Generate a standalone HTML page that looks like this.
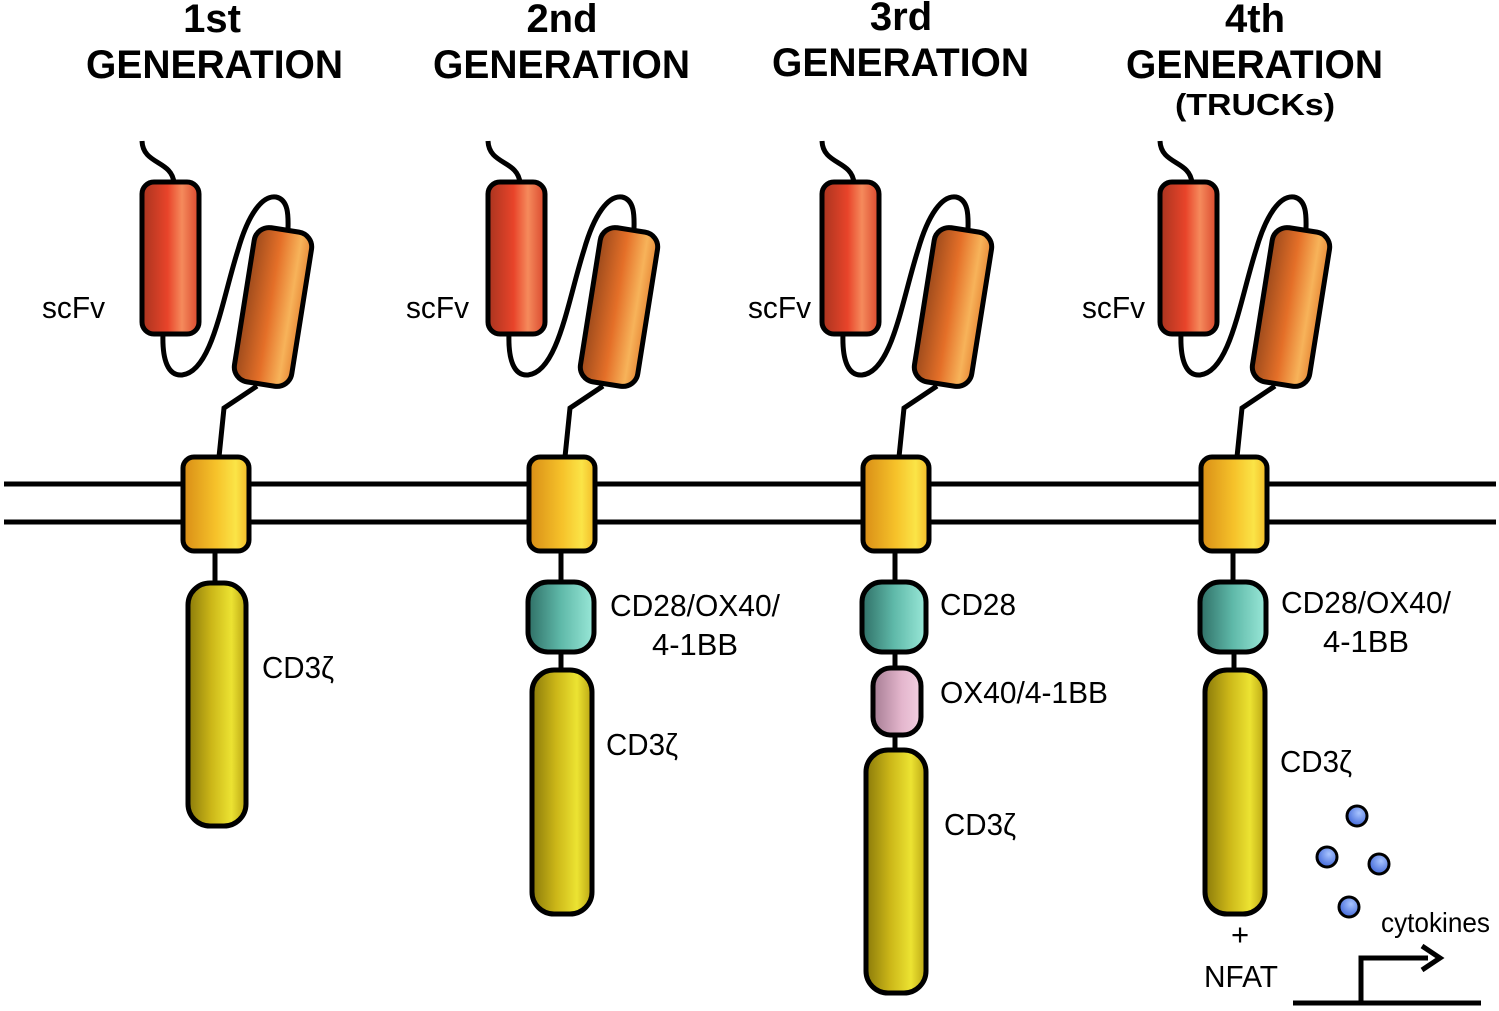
<!DOCTYPE html>
<html><head><meta charset="utf-8"><style>
html,body{margin:0;padding:0;background:#fff;}
svg{display:block;}
text{font-family:"Liberation Sans",sans-serif;fill:#000;}
.t{font-weight:bold;font-size:40px;}
.l{font-size:31px;}
</style></head><body>
<svg width="1499" height="1011" viewBox="0 0 1499 1011" xmlns="http://www.w3.org/2000/svg">
<defs>
<linearGradient id="red" x1="0" x2="1" y1="0" y2="0">
<stop offset="0" stop-color="#a8341f"/><stop offset="0.45" stop-color="#e8442a"/><stop offset="0.7" stop-color="#f58a5c"/><stop offset="1" stop-color="#d9472c"/></linearGradient>
<linearGradient id="org" x1="0" x2="1" y1="0" y2="0">
<stop offset="0" stop-color="#9c4a1c"/><stop offset="0.45" stop-color="#e46f28"/><stop offset="0.8" stop-color="#f7b35a"/><stop offset="1" stop-color="#e88a38"/></linearGradient>
<linearGradient id="yel" x1="0" x2="1" y1="0" y2="0">
<stop offset="0" stop-color="#d88d16"/><stop offset="0.5" stop-color="#f6c22a"/><stop offset="0.8" stop-color="#fbe447"/><stop offset="1" stop-color="#f2b926"/></linearGradient>
<linearGradient id="olv" x1="0" x2="1" y1="0" y2="0">
<stop offset="0" stop-color="#8a7a0a"/><stop offset="0.4" stop-color="#cbb618"/><stop offset="0.75" stop-color="#ece332"/><stop offset="1" stop-color="#b9a412"/></linearGradient>
<linearGradient id="tea" x1="0" x2="1" y1="0" y2="0">
<stop offset="0" stop-color="#2f6f66"/><stop offset="0.5" stop-color="#5fb9a9"/><stop offset="1" stop-color="#9ae8d8"/></linearGradient>
<linearGradient id="pnk" x1="0" x2="1" y1="0" y2="0">
<stop offset="0" stop-color="#a57c93"/><stop offset="0.6" stop-color="#e4b6cd"/><stop offset="1" stop-color="#f2cfe0"/></linearGradient>
<radialGradient id="blu" cx="0.6" cy="0.35" r="0.7">
<stop offset="0" stop-color="#a8c4ff"/><stop offset="1" stop-color="#3c63d6"/></radialGradient>
<g id="top">
<path d="M142,141 C143,165 172,160 174,183" fill="none" stroke="#000" stroke-width="5"/>
<path d="M163,333 C162,360 168,376 182,375 C212,372 222,300 238,250 C248,215 262,195 276,197 C290,200 288,220 288,230" fill="none" stroke="#000" stroke-width="5"/>
<path d="M257,386 L224,408 L219,457" fill="none" stroke="#000" stroke-width="5"/>
<rect x="142" y="182" width="57" height="152" rx="12" fill="url(#red)" stroke="#000" stroke-width="5"/>
<rect x="244" y="229" width="58" height="156" rx="15" fill="url(#org)" stroke="#000" stroke-width="5" transform="rotate(9 273 307)"/>
<rect x="183" y="457" width="66" height="94" rx="11" fill="url(#yel)" stroke="#000" stroke-width="5"/>
<line x1="215" y1="551" x2="215" y2="584" stroke="#000" stroke-width="5"/>
</g>
</defs>
<line x1="4" y1="484" x2="1496" y2="484" stroke="#000" stroke-width="5"/>
<line x1="4" y1="522" x2="1496" y2="522" stroke="#000" stroke-width="5"/>

<use href="#top"/>
<use href="#top" transform="translate(346,0)"/>
<use href="#top" transform="translate(680,0)"/>
<use href="#top" transform="translate(1018,0)"/>

<!-- gen1 -->
<rect x="188" y="583" width="58" height="243" rx="22" fill="url(#olv)" stroke="#000" stroke-width="5"/>
<!-- gen2 -->
<line x1="561" y1="650" x2="561" y2="672" stroke="#000" stroke-width="5"/>
<rect x="528" y="582" width="66" height="70" rx="20" fill="url(#tea)" stroke="#000" stroke-width="5"/>
<rect x="532" y="670" width="60" height="244" rx="22" fill="url(#olv)" stroke="#000" stroke-width="5"/>
<!-- gen3 -->
<line x1="895" y1="650" x2="895" y2="752" stroke="#000" stroke-width="5"/>
<rect x="862" y="582" width="64" height="70" rx="20" fill="url(#tea)" stroke="#000" stroke-width="5"/>
<rect x="873" y="668" width="48" height="67" rx="18" fill="url(#pnk)" stroke="#000" stroke-width="5"/>
<rect x="866" y="750" width="60" height="243" rx="22" fill="url(#olv)" stroke="#000" stroke-width="5"/>
<!-- gen4 -->
<line x1="1234" y1="650" x2="1234" y2="672" stroke="#000" stroke-width="5"/>
<rect x="1200" y="582" width="66" height="70" rx="20" fill="url(#tea)" stroke="#000" stroke-width="5"/>
<rect x="1205" y="670" width="60" height="244" rx="22" fill="url(#olv)" stroke="#000" stroke-width="5"/>

<circle cx="1357" cy="816" r="10" fill="url(#blu)" stroke="#000" stroke-width="3"/>
<circle cx="1327" cy="857" r="10" fill="url(#blu)" stroke="#000" stroke-width="3"/>
<circle cx="1379" cy="864" r="10" fill="url(#blu)" stroke="#000" stroke-width="3"/>
<circle cx="1349" cy="907" r="10" fill="url(#blu)" stroke="#000" stroke-width="3"/>
<line x1="1293" y1="1003" x2="1481" y2="1003" stroke="#000" stroke-width="5"/>
<polyline points="1361,1003 1361,958 1428,958" fill="none" stroke="#000" stroke-width="5"/>
<polyline points="1422,946 1440,958 1422,970" fill="none" stroke="#000" stroke-width="5"/>

<!-- titles -->
<text class="t" x="212" y="32" text-anchor="middle">1st</text>
<text class="t" x="86" y="78" textLength="257" lengthAdjust="spacingAndGlyphs">GENERATION</text>
<text class="t" x="562" y="32" text-anchor="middle">2nd</text>
<text class="t" x="433" y="78" textLength="257" lengthAdjust="spacingAndGlyphs">GENERATION</text>
<text class="t" x="901" y="30" text-anchor="middle">3rd</text>
<text class="t" x="772" y="76" textLength="257" lengthAdjust="spacingAndGlyphs">GENERATION</text>
<text class="t" x="1255" y="32" text-anchor="middle">4th</text>
<text class="t" x="1126" y="78" textLength="257" lengthAdjust="spacingAndGlyphs">GENERATION</text>
<text class="t" x="1255" y="115" text-anchor="middle" style="font-size:31px" textLength="160" lengthAdjust="spacingAndGlyphs">(TRUCKs)</text>

<!-- labels -->
<text class="l" x="42" y="318" textLength="63" lengthAdjust="spacingAndGlyphs">scFv</text>
<text class="l" x="406" y="318" textLength="63" lengthAdjust="spacingAndGlyphs">scFv</text>
<text class="l" x="748" y="318" textLength="63" lengthAdjust="spacingAndGlyphs">scFv</text>
<text class="l" x="1082" y="318" textLength="63" lengthAdjust="spacingAndGlyphs">scFv</text>
<text class="l" x="262" y="678" textLength="72" lengthAdjust="spacingAndGlyphs">CD3ζ</text>
<text class="l" x="610" y="616" textLength="170" lengthAdjust="spacingAndGlyphs">CD28/OX40/</text>
<text class="l" x="652" y="655" textLength="86" lengthAdjust="spacingAndGlyphs">4-1BB</text>
<text class="l" x="606" y="755" textLength="72" lengthAdjust="spacingAndGlyphs">CD3ζ</text>
<text class="l" x="940" y="615" textLength="76" lengthAdjust="spacingAndGlyphs">CD28</text>
<text class="l" x="940" y="703" textLength="168" lengthAdjust="spacingAndGlyphs">OX40/4-1BB</text>
<text class="l" x="944" y="835" textLength="72" lengthAdjust="spacingAndGlyphs">CD3ζ</text>
<text class="l" x="1281" y="613" textLength="170" lengthAdjust="spacingAndGlyphs">CD28/OX40/</text>
<text class="l" x="1323" y="652" textLength="86" lengthAdjust="spacingAndGlyphs">4-1BB</text>
<text class="l" x="1280" y="772" textLength="72" lengthAdjust="spacingAndGlyphs">CD3ζ</text>
<text class="l" x="1240" y="945" text-anchor="middle">+</text>
<text class="l" x="1204" y="987" textLength="74" lengthAdjust="spacingAndGlyphs">NFAT</text>
<text class="l" x="1381" y="932" style="font-size:28px" textLength="109" lengthAdjust="spacingAndGlyphs">cytokines</text>
</svg>
</body></html>
